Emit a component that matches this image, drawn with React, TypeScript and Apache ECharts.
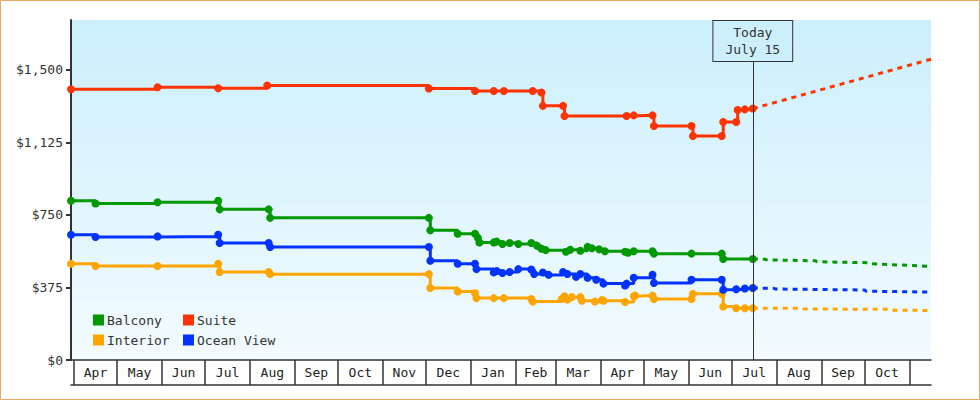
import { useEffect, useRef } from 'react';
import * as echarts from 'echarts';

const FONT = 'DejaVu Sans Mono';

const seriesNames = ['Balcony', 'Suite', 'Interior', 'Ocean View'];
const seriesColors = ['#009900', '#ff3300', '#ffa500', '#0033ff'];

const todayDate = '2023-07-15 12:00';
const todayLabel = 'Today\nJuly 15';

const xMin = '2022-03-30';
const xMax = '2023-11-16';

const yMax = 1758;
const yTicks = [0, 375, 750, 1125, 1500];

const monthStarts = [
  '2022-04-01', '2022-05-01', '2022-06-01', '2022-07-01', '2022-08-01', '2022-09-01',
  '2022-10-01', '2022-11-01', '2022-12-01', '2023-01-01', '2023-02-01', '2023-03-01',
  '2023-04-01', '2023-05-01', '2023-06-01', '2023-07-01', '2023-08-01', '2023-09-01',
  '2023-10-01', '2023-11-01',
];
const monthNames = ['Jan', 'Feb', 'Mar', 'Apr', 'May', 'Jun', 'Jul', 'Aug', 'Sep', 'Oct', 'Nov', 'Dec'];

const suiteHistory: [string, number][] = [
  ['2022-03-30', 1400], ['2022-05-29', 1410], ['2022-07-10', 1405], ['2022-08-13', 1419],
  ['2022-12-03', 1404], ['2023-01-04', 1391], ['2023-01-17', 1391], ['2023-01-24', 1391],
  ['2023-02-13', 1391], ['2023-02-19', 1383], ['2023-02-20', 1314], ['2023-03-06', 1314],
  ['2023-03-07', 1262], ['2023-04-19', 1262], ['2023-04-24', 1265], ['2023-05-07', 1265],
  ['2023-05-08', 1210], ['2023-06-03', 1210], ['2023-06-04', 1158], ['2023-06-24', 1158],
  ['2023-06-25', 1231], ['2023-07-04', 1231], ['2023-07-05', 1293], ['2023-07-10', 1296],
  ['2023-07-15 12:00', 1300],
];

const balconyHistory: [string, number][] = [
  ['2022-03-30', 823], ['2022-04-16', 809], ['2022-05-29', 816], ['2022-07-10', 823],
  ['2022-07-11', 779], ['2022-08-14', 779], ['2022-08-15', 735], ['2022-12-03', 735],
  ['2022-12-04', 671], ['2022-12-23', 653], ['2023-01-04', 653], ['2023-01-06', 631],
  ['2023-01-07', 608], ['2023-01-17', 608], ['2023-01-19', 612], ['2023-01-23', 600],
  ['2023-01-28', 605], ['2023-02-03', 600], ['2023-02-12', 605], ['2023-02-16', 590],
  ['2023-02-19', 575], ['2023-02-22', 568], ['2023-03-08', 560], ['2023-03-11', 570],
  ['2023-03-18', 565], ['2023-03-23', 585], ['2023-03-26', 578], ['2023-03-31', 572],
  ['2023-04-04', 562], ['2023-04-18', 560], ['2023-04-20', 555], ['2023-04-24', 562],
  ['2023-05-07', 562], ['2023-05-08', 550], ['2023-06-03', 550], ['2023-06-24', 550],
  ['2023-06-25', 522], ['2023-07-15 12:00', 522],
];

const oceanHistory: [string, number][] = [
  ['2022-03-30', 648], ['2022-04-16', 636], ['2022-05-29', 639], ['2022-07-10', 648],
  ['2022-07-11', 605], ['2022-08-14', 605], ['2022-08-15', 584], ['2022-12-03', 584],
  ['2022-12-04', 513], ['2022-12-23', 498], ['2023-01-04', 498], ['2023-01-05', 470],
  ['2023-01-17', 453], ['2023-01-19', 460], ['2023-01-23', 450], ['2023-01-28', 455],
  ['2023-02-03', 470], ['2023-02-12', 468], ['2023-02-14', 445], ['2023-02-20', 452],
  ['2023-02-24', 440], ['2023-03-06', 455], ['2023-03-09', 445], ['2023-03-15', 430],
  ['2023-03-18', 445], ['2023-03-23', 425], ['2023-03-29', 415], ['2023-04-03', 395],
  ['2023-04-18', 385], ['2023-04-19', 395], ['2023-04-24', 425], ['2023-05-07', 441],
  ['2023-05-08', 398], ['2023-06-03', 415], ['2023-06-24', 415], ['2023-06-25', 363],
  ['2023-07-04', 366], ['2023-07-10', 370], ['2023-07-15 12:00', 372],
];

const interiorHistory: [string, number][] = [
  ['2022-03-30', 498], ['2022-04-16', 486], ['2022-05-29', 486], ['2022-07-10', 498],
  ['2022-07-11', 455], ['2022-08-14', 455], ['2022-08-15', 444], ['2022-12-03', 444],
  ['2022-12-04', 372], ['2022-12-23', 354], ['2023-01-04', 345], ['2023-01-05', 320],
  ['2023-01-17', 320], ['2023-01-24', 320], ['2023-02-12', 315], ['2023-02-13', 302],
  ['2023-03-05', 315], ['2023-03-07', 330], ['2023-03-09', 312], ['2023-03-12', 325],
  ['2023-03-18', 325], ['2023-03-19', 306], ['2023-03-28', 302], ['2023-04-02', 310],
  ['2023-04-03', 306], ['2023-04-18', 300], ['2023-04-24', 330], ['2023-04-25', 333],
  ['2023-05-07', 333], ['2023-05-08', 315], ['2023-06-03', 315], ['2023-06-04', 342],
  ['2023-06-24', 342], ['2023-06-25', 276], ['2023-07-04', 268], ['2023-07-10', 268],
  ['2023-07-15 12:00', 268],
];

const suiteForecast: [string, number][] = [
  ['2023-07-15 12:00', 1300], ['2023-11-16', 1555],
];
const balconyForecast: [string, number][] = [
  ['2023-07-15 12:00', 522], ['2023-07-24', 521], ['2023-07-25', 518], ['2023-08-28', 513],
  ['2023-08-29', 508], ['2023-10-04', 503], ['2023-10-05', 498], ['2023-11-16', 484],
];
const oceanForecast: [string, number][] = [
  ['2023-07-15 12:00', 372], ['2023-07-30', 371], ['2023-07-31', 367], ['2023-10-01', 362],
  ['2023-10-02', 356], ['2023-11-16', 351],
];
const interiorForecast: [string, number][] = [
  ['2023-07-15 12:00', 268], ['2023-08-16', 267], ['2023-08-17', 264], ['2023-10-17', 262],
  ['2023-10-18', 258], ['2023-11-16', 256],
];

function ts(s: string): number {
  const [d, t] = s.split(' ');
  const [y, m, day] = d.split('-').map(Number);
  let h = 0;
  let mi = 0;
  if (t) {
    const parts = t.split(':').map(Number);
    h = parts[0];
    mi = parts[1] || 0;
  }
  return new Date(y, m - 1, day, h, mi).getTime();
}

const toData = (arr: [string, number][]) => arr.map(([d, v]) => [ts(d), v]);

export default function App() {
  const ref = useRef<HTMLDivElement>(null);

  useEffect(() => {
    document.body.style.margin = '0';
    if (!ref.current) return;
    const chart = echarts.init(ref.current, undefined, { renderer: 'svg' });

    const tickTs = monthStarts.map(ts);
    const labelTs = tickTs.slice(0, -1).map((t, i) => (t + tickTs[i + 1]) / 2);

    const histories = [balconyHistory, suiteHistory, interiorHistory, oceanHistory];
    const forecasts = [balconyForecast, suiteForecast, interiorForecast, oceanForecast];

    const textBase = { fontFamily: FONT, fontSize: 13, color: '#333' };

    const series: any[] = [];
    seriesNames.forEach((name, i) => {
      const s: any = {
        name,
        type: 'line',
        step: 'end',
        data: toData(histories[i]),
        symbol: 'circle',
        symbolSize: 8,
        showSymbol: true,
        color: seriesColors[i],
        lineStyle: { color: seriesColors[i], width: 3 },
        itemStyle: { color: seriesColors[i] },
        emphasis: { disabled: true },
        z: 3,
      };
      if (name === 'Suite') {
        s.markLine = {
          silent: true,
          symbol: ['none', 'none'],
          animation: false,
          lineStyle: { color: '#333', width: 1, type: 'solid' },
          label: {
            show: true,
            position: 'end',
            distance: -41,
            formatter: todayLabel,
            ...textBase,
            lineHeight: 17,
            backgroundColor: '#cdeffc',
            borderColor: '#333',
            borderWidth: 1,
            padding: [3, 12, 3, 12],
          },
          data: [{ xAxis: ts(todayDate) }],
        };
      }
      series.push(s);
      series.push({
        name,
        type: 'line',
        data: toData(forecasts[i]),
        symbol: 'none',
        color: seriesColors[i],
        lineStyle: { color: seriesColors[i], width: 3, type: [5, 5] },
        emphasis: { disabled: true },
        z: 2,
      });
    });

    const legendCommon = {
      orient: 'vertical',
      icon: 'rect',
      itemWidth: 11,
      itemHeight: 11,
      itemGap: 6,
      top: 313,
      padding: 0,
      textStyle: { ...textBase, lineHeight: 14, padding: [0, 0, 0, -2] },
      selectedMode: false,
    };

    chart.setOption({
      animation: false,
      textStyle: { fontFamily: FONT },
      grid: {
        left: 71,
        right: 49,
        top: 20,
        bottom: 40,
        show: true,
        borderWidth: 0,
        backgroundColor: new echarts.graphic.LinearGradient(0, 0, 0, 1, [
          { offset: 0, color: '#cbeffc' },
          { offset: 1, color: '#f2fbff' },
        ]),
      },
      legend: [
        { ...legendCommon, left: 93, data: ['Balcony', 'Interior'] },
        { ...legendCommon, left: 183, data: ['Suite', 'Ocean View'] },
      ],
      xAxis: [
        {
          type: 'value',
          min: ts(xMin),
          max: ts(xMax),
          position: 'bottom',
          axisLine: { show: true, lineStyle: { color: '#333', width: 1.5 } },
          axisTick: {
            show: true,
            customValues: tickTs,
            length: 25,
            inside: false,
            lineStyle: { color: '#333', width: 1.5 },
          },
          axisLabel: {
            show: true,
            customValues: labelTs,
            formatter: (v: number) => monthNames[new Date(v).getMonth()],
            ...textBase,
            color: '#222',
            margin: 6,
          },
          splitLine: { show: false },
        },
        {
          type: 'value',
          min: ts(xMin),
          max: ts(xMax),
          position: 'bottom',
          offset: 25,
          axisLine: { show: true, lineStyle: { color: '#333', width: 1.5 } },
          axisTick: { show: false },
          axisLabel: { show: false },
          splitLine: { show: false },
        },
      ],
      yAxis: {
        type: 'value',
        min: 0,
        max: yMax,
        axisLine: { show: true, lineStyle: { color: '#333', width: 2 } },
        axisTick: {
          show: true,
          customValues: yTicks,
          length: 5,
          lineStyle: { color: '#333', width: 2 },
        },
        axisLabel: {
          show: true,
          customValues: yTicks,
          formatter: (v: number) => '$' + v.toLocaleString('en-US'),
          ...textBase,
          margin: 8,
        },
        splitLine: { show: false },
      },
      graphic: [
        {
          type: 'rect',
          shape: { x: 0.5, y: 0.5, width: 979, height: 399 },
          style: { fill: 'none', stroke: '#eba963', lineWidth: 1 },
          silent: true,
          z: 100,
        },
      ],
      series,
    });

    return () => chart.dispose();
  }, []);

  return (
    <div
      ref={ref}
      style={{ position: 'fixed', left: 0, top: 0, width: 980, height: 400, background: '#fff' }}
    />
  );
}
